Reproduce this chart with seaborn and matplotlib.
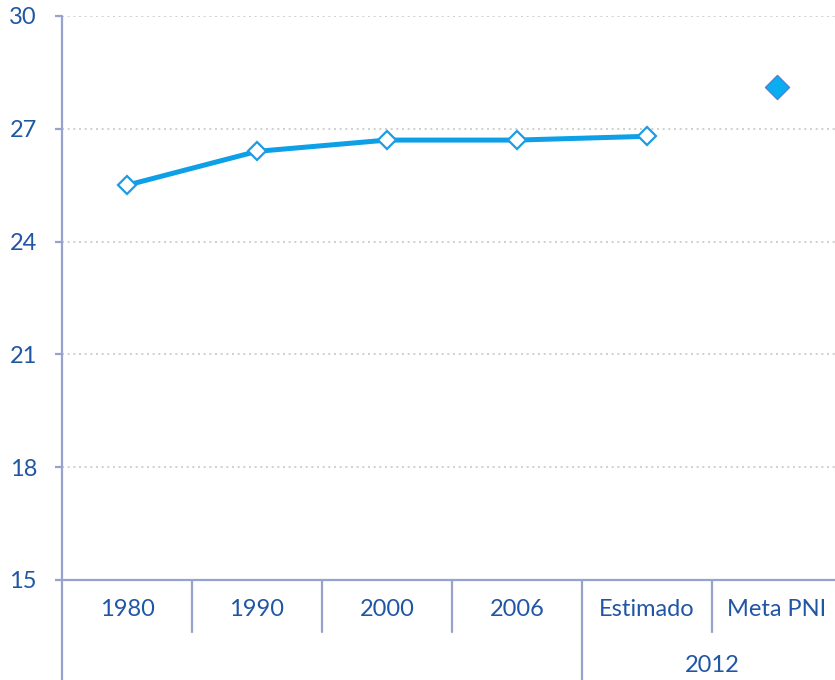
import numpy as np
import pandas as pd
import matplotlib
matplotlib.use("Agg")
import matplotlib.pyplot as plt
import seaborn as sns

# data
categories = ["1980", "1990", "2000", "2006", "Estimado", "Meta PNI"]
line_values = [25.5, 26.4, 26.7, 26.7, 26.8]
meta_value = [28.1]
group_label = "2012"
y_ticks = [15, 18, 21, 24, 27, 30]

TEXT = "#2156a5"
AXIS = "#97a3cc"
LINE = "#0ea0e6"

sns.set_theme(style="white")
plt.rcParams["font.family"] = ["Lato", "DejaVu Sans"]

fig = plt.figure(figsize=(8.35, 6.8), dpi=100)
ax = fig.add_axes([62 / 835, 100 / 680, (835 - 62) / 835, 564 / 680])

pos = np.arange(len(categories))
line_df = pd.DataFrame({"x": pos[:len(line_values)], "y": line_values})
meta_df = pd.DataFrame({"x": pos[len(line_values):], "y": meta_value})

sns.lineplot(data=line_df, x="x", y="y", ax=ax, color=LINE, linewidth=3.6,
             marker="D", markersize=9.5, markerfacecolor="white",
             markeredgecolor="#1f9be6", markeredgewidth=1.6, zorder=3)
sns.scatterplot(data=meta_df, x="x", y="y", ax=ax, marker="D", s=150,
                color="#0aaef0", edgecolor="#4a82d6", linewidth=1.0, zorder=3)

ax.set_ylim(15, 30)
ax.set_xlim(-0.5, len(categories) - 0.5 - 7 / 130)
ax.set_yticks(y_ticks)
ax.set_yticklabels([str(t) for t in y_ticks])
ax.set_xticks(pos)
ax.set_xticklabels(categories)
ax.set_xlabel("")
ax.set_ylabel("")

for t in y_ticks[1:]:
    ax.axhline(t, color="#c8c8c8", linestyle=(0, (1.2, 2.2)), linewidth=1.2, zorder=1)

for s in ["top", "right"]:
    ax.spines[s].set_visible(False)
ax.spines["left"].set_visible(False)
ax.spines["bottom"].set_color(AXIS)
ax.spines["bottom"].set_linewidth(1.6)

ax.tick_params(axis="y", colors=AXIS, labelcolor=TEXT, labelsize=17,
               length=5, width=1.6, pad=13, left=True)
ax.tick_params(axis="x", labelcolor=TEXT, labelsize=17, length=0, pad=14)

# left axis line running down past the category rows
xt = ax.get_xaxis_transform()
lo = -100 / 564
ax.plot([-0.5, -0.5], [1, lo], transform=xt, color=AXIS, lw=1.6, clip_on=False)
# separators between categories
for b in pos[:-1] + 0.5:
    bottom = lo if b == 3.5 else -52 / 564
    ax.plot([b, b], [0, bottom], transform=xt, color=AXIS, lw=1.6, clip_on=False)

ax.text(4.5, -85 / 564, group_label, transform=xt, ha="center", va="center",
        color=TEXT, fontsize=17)

fig.savefig("out.png", dpi=100)
